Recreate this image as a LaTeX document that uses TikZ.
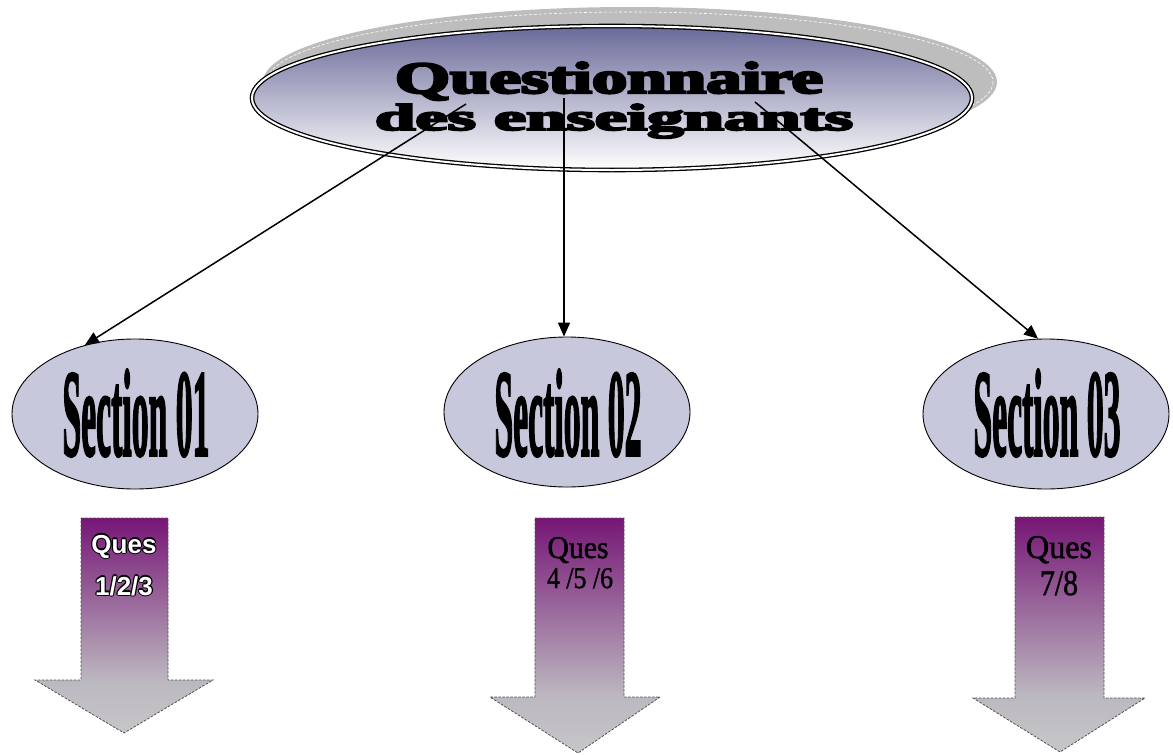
\documentclass[tikz,border=0pt]{standalone}
\usepackage{fontspec}
\setmainfont{Liberation Serif}
\newfontfamily\sansfam{Liberation Sans}
\newfontfamily\heavyfont[UprightFont={* Bold}, FakeBold=5]{Liberation Serif}
\newfontfamily\secfont[UprightFont={* Bold}, FakeBold=2.5]{Liberation Serif}
\newfontfamily\quesfont[FakeBold=1.5]{Liberation Serif}
\usetikzlibrary{shapes.geometric,arrows.meta}
\definecolor{titletop}{RGB}{106,106,154}
\definecolor{secfill}{RGB}{200,200,220}
\definecolor{arrtop}{RGB}{118,22,118}
\definecolor{arrmid}{RGB}{188,184,192}
\definecolor{arrbot}{RGB}{198,198,200}
\definecolor{shadowgray}{RGB}{189,189,189}
\definecolor{dashgray}{RGB}{80,80,80}
\pgfdeclareverticalshading{arrowshade}{100bp}{color(0bp)=(arrbot); color(25bp)=(arrbot); color(37bp)=(arrmid); color(75bp)=(arrtop); color(100bp)=(arrtop)}
\newlength\olw \setlength\olw{1.1pt}
\newcommand\outlinedtext[1]{{\setbox0\hbox{#1}%
 \rlap{\color{black}\kern-\olw\copy0}\rlap{\color{black}\kern\olw\copy0}%
 \rlap{\color{black}\raise\olw\copy0}\rlap{\color{black}\lower\olw\copy0}%
 \rlap{\color{black}\kern-0.7\olw\raise0.7\olw\copy0}\rlap{\color{black}\kern0.7\olw\raise0.7\olw\copy0}%
 \rlap{\color{black}\kern-0.7\olw\lower0.7\olw\copy0}\rlap{\color{black}\kern0.7\olw\lower0.7\olw\copy0}%
 \color{white}\box0}}
\begin{document}
\begin{tikzpicture}[x=1pt,y=-1pt,
  secbox/.style={ellipse, draw=black, line width=0.9pt, fill=secfill, inner sep=0pt,
    minimum width=246pt, minimum height=150pt},
  sectext/.style={inner sep=0pt, font=\secfont},
  conn/.style={line width=1.5pt, -{Triangle[length=14pt,width=12pt]}},
  blockarrow/.style={shading=arrowshade,
    draw=dashgray, line width=0.8pt, dash pattern=on 2.5pt off 1.5pt},
  quessans/.style={anchor=base, inner sep=0pt, font=\sansfam\bfseries\fontsize{26}{26}\selectfont},
  quesserif/.style={anchor=base, inner sep=0pt, font=\quesfont},
  titletext/.style={anchor=base, inner sep=0pt, font=\heavyfont}
]
\useasboundingbox (0,0) rectangle (1173,755);

% shadow of the title ellipse
\coordinate (shc) at (630,82);
\fill[shadowgray] (shc) ellipse (367 and 75);
\draw[white, line width=0.6pt, dash pattern=on 3pt off 2pt] (shc) ellipse (363 and 70);

% title ellipse
\coordinate (tc) at (612,98);
\shade[top color=titletop, bottom color=white] (tc) ellipse (360 and 72);
\draw[black, line width=1.3pt, double=white, double distance=2pt] (tc) ellipse (360 and 72);
\node[titletext] (t1) at (609,93) {\resizebox{428pt}{31pt}{Questionnaire}};
\node[titletext] (t2) at (614,130) {\resizebox{478pt}{26pt}{des enseignants}};

% sections
\node[secbox] (s1) at (135,414) {};
\node[secbox] (s2) at (567,412) {};
\node[secbox] (s3) at (1046,414) {};
\node[sectext] (l1) at (136,413) {\resizebox{147pt}{86pt}{Section 01}};
\node[sectext] (l2) at (568,413) {\resizebox{147pt}{86pt}{Section 02}};
\node[sectext] (l3) at (1047,413) {\resizebox{147pt}{86pt}{Section 03}};

% connectors
\coordinate (c1) at (466,104);
\coordinate (c2) at (564,98);
\coordinate (c3) at (755,102);
\draw[conn] (c1) -- (s1.126);
\draw[conn] (c2) -- (c2 |- s2.north);
\draw[conn] (c3) -- (s3.96);

% block arrows
\shadedraw[blockarrow] (81,518) -- (168,518) -- (168,680) -- (213,680) -- (124,733) -- (35,680) -- (81,680) -- cycle;
\shadedraw[blockarrow] (535,518) -- (624,518) -- (624,697) -- (660,697) -- (578,753) -- (490,697) -- (535,697) -- cycle;
\shadedraw[blockarrow] (1015,517) -- (1104,517) -- (1104,698) -- (1145,698) -- (1060,752) -- (973,698) -- (1015,698) -- cycle;

% arrow labels
\node[quessans] (q1a) at (124,553) {\outlinedtext{Ques}};
\node[quessans] (q1b) at (124,595) {\outlinedtext{1/2/3}};
\node[quesserif] (q2a) at (578,558) {\resizebox{61pt}{21pt}{Ques}};
\node[quesserif] (q2b) at (580,588) {\resizebox{66pt}{20pt}{4 /5 /6}};
\node[quesserif] (q3a) at (1059,558) {\resizebox{66pt}{22pt}{Ques}};
\node[quesserif] (q3b) at (1059,595) {\resizebox{38pt}{24pt}{7/8}};
\end{tikzpicture}
\end{document}
